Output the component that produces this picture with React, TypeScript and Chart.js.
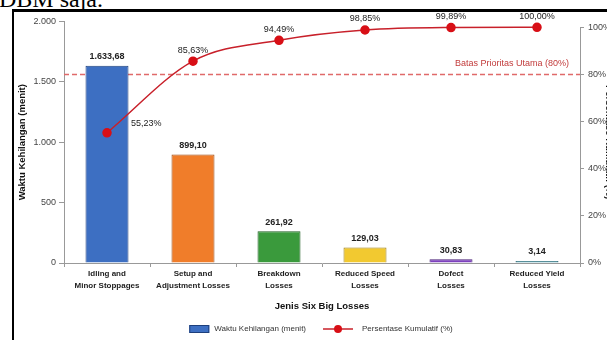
import React, { useEffect, useRef } from "react";
import { Chart, registerables } from "chart.js";

Chart.register(...registerables);

// Six Big Losses: lost minutes per category plus the cumulative share
const categories: string[][] = [
  ["Idling and", "Minor Stoppages"],
  ["Setup and", "Adjustment Losses"],
  ["Breakdown", "Losses"],
  ["Reduced Speed", "Losses"],
  ["Dofect", "Losses"],
  ["Reduced Yield", "Losses"],
];
const lossMinutes = [1633.68, 899.1, 261.92, 129.03, 30.83, 3.14];
const cumulativePercent = [55.23, 85.63, 94.49, 98.85, 99.89, 100.0];
const minuteTicks = [0, 500, 1000, 1500, 2000];
const percentTicks = [0, 20, 40, 60, 80, 100];
const priorityLimit = 80;
const priorityText = "Batas Prioritas Utama (80%)";

const barFill = ["#3d6fc2", "#f07d2a", "#3a9a3c", "#f2c930", "#7d40bd", "#4aa0b0"];
const barEdge = ["#1d3f7c", "#9a4a12", "#1f5e22", "#9c7c10", "#4a2178", "#2a6470"];
const lineRed = "#c8202a";
const dotRed = "#d80f16";

const FONT = '"Liberation Sans", Arial, Helvetica, sans-serif';

// Indonesian number style: "." for thousands, "," for decimals
function formatId(v: number, decimals: number): string {
  const [whole, frac] = v.toFixed(decimals).split(".");
  const grouped = whole.replace(/\B(?=(\d{3})+(?!\d))/g, ".");
  return frac ? grouped + "," + frac : grouped;
}

const priorityLinePlugin = {
  id: "priorityLine",
  beforeDatasetsDraw(chart: any) {
    const { ctx, chartArea, scales } = chart;
    const y = scales.yPct.getPixelForValue(priorityLimit);
    ctx.save();
    ctx.strokeStyle = "#e06a6a";
    ctx.lineWidth = 1.5;
    ctx.setLineDash([5, 3]);
    ctx.beginPath();
    ctx.moveTo(chartArea.left, y);
    ctx.lineTo(chartArea.right, y);
    ctx.stroke();
    ctx.setLineDash([]);
    ctx.fillStyle = "#c23b3b";
    ctx.font = `9px ${FONT}`;
    ctx.textAlign = "right";
    ctx.textBaseline = "middle";
    ctx.fillText(priorityText, chartArea.right - 11, y - 11);
    ctx.restore();
  },
};

const valueLabelPlugin = {
  id: "valueLabels",
  afterDatasetsDraw(chart: any) {
    const { ctx } = chart;
    ctx.save();
    const bars = chart.getDatasetMeta(0).data;
    ctx.fillStyle = "#222";
    ctx.font = `bold 9px ${FONT}`;
    ctx.textAlign = "center";
    ctx.textBaseline = "middle";
    bars.forEach((bar: any, i: number) => {
      ctx.fillText(formatId(lossMinutes[i], 2), bar.x, bar.y - 9);
    });
    const points = chart.getDatasetMeta(1).data;
    ctx.font = `9px ${FONT}`;
    points.forEach((pt: any, i: number) => {
      const text = formatId(cumulativePercent[i], 2) + "%";
      if (i === 0) {
        ctx.textAlign = "left";
        ctx.fillText(text, pt.x + 24, pt.y - 9);
      } else {
        ctx.textAlign = "center";
        ctx.fillText(text, pt.x, pt.y - 11);
      }
    });
    ctx.restore();
  },
};

const rightAxisLinePlugin = {
  id: "rightAxisLine",
  afterDraw(chart: any) {
    const { ctx, chartArea, scales } = chart;
    const s = scales.yPct;
    ctx.save();
    ctx.strokeStyle = "#999";
    ctx.lineWidth = 1;
    ctx.beginPath();
    ctx.moveTo(chartArea.right + 0.5, s.getPixelForValue(0));
    ctx.lineTo(chartArea.right + 0.5, s.getPixelForValue(100));
    ctx.stroke();
    ctx.restore();
  },
};

const bottomLegendPlugin = {
  id: "bottomLegend",
  afterDraw(chart: any) {
    const { ctx, chartArea } = chart;
    const [barSet, lineSet] = chart.data.datasets;
    const y = chartArea.bottom + 66;
    ctx.save();
    ctx.font = `8px ${FONT}`;
    const w1 = ctx.measureText(barSet.label).width;
    const w2 = ctx.measureText(lineSet.label).width;
    const total = 20 + 5 + w1 + 17 + 30 + 9 + w2;
    let x = (chartArea.left + chartArea.right) / 2 - 1 - total / 2;
    ctx.fillStyle = barFill[0];
    ctx.fillRect(x, y - 4, 20, 8);
    ctx.strokeStyle = barEdge[0];
    ctx.lineWidth = 1;
    ctx.strokeRect(x + 0.5, y - 3.5, 19, 7);
    x += 25;
    ctx.fillStyle = "#333";
    ctx.textAlign = "left";
    ctx.textBaseline = "middle";
    ctx.fillText(barSet.label, x, y);
    x += w1 + 17;
    ctx.strokeStyle = lineRed;
    ctx.lineWidth = 1.5;
    ctx.beginPath();
    ctx.moveTo(x, y);
    ctx.lineTo(x + 30, y);
    ctx.stroke();
    ctx.fillStyle = dotRed;
    ctx.beginPath();
    ctx.arc(x + 15, y, 4, 0, Math.PI * 2);
    ctx.fill();
    x += 39;
    ctx.fillStyle = "#333";
    ctx.fillText(lineSet.label, x, y);
    ctx.restore();
  },
};

export default function App() {
  const canvasRef = useRef<HTMLCanvasElement | null>(null);

  useEffect(() => {
    const canvas = canvasRef.current;
    if (!canvas) return;
    Chart.defaults.font.family = FONT;
    const chart = new Chart(canvas, {
      type: "bar",
      data: {
        labels: categories,
        datasets: [
          {
            type: "bar",
            label: "Waktu Kehilangan (menit)",
            data: lossMinutes,
            backgroundColor: barFill,
            borderColor: barEdge,
            borderWidth: 1,
            minBarLength: 2,
            categoryPercentage: 1,
            barPercentage: 0.5,
            yAxisID: "y",
            order: 1,
          },
          {
            type: "line",
            label: "Persentase Kumulatif (%)",
            data: cumulativePercent,
            borderColor: lineRed,
            borderWidth: 1.5,
            backgroundColor: dotRed,
            pointBackgroundColor: dotRed,
            pointBorderColor: dotRed,
            pointRadius: 4,
            cubicInterpolationMode: "monotone",
            yAxisID: "yPct",
            order: 0,
          },
        ],
      } as any,
      options: {
        responsive: false,
        animation: false,
        layout: { padding: { left: 0, right: 0, top: 5, bottom: 37 } },
        plugins: {
          legend: { display: false },
          tooltip: { enabled: false },
        },
        scales: {
          x: {
            type: "category",
            offset: true,
            grid: {
              display: true,
              offset: true,
              drawOnChartArea: false,
              drawTicks: true,
              tickLength: 4,
              color: "#999",
            },
            border: { color: "#999" },
            ticks: {
              color: "#222",
              padding: 0,
              maxRotation: 0,
              autoSkip: false,
              font: { size: 8, weight: "bold", lineHeight: 1.6 },
            },
            title: {
              display: true,
              text: "Jenis Six Big Losses",
              color: "#111",
              font: { size: 9.5, weight: "bold" },
              padding: { top: 0, bottom: 3 },
            },
            afterFit: (s: any) => {
              s.height = 52;
            },
          },
          y: {
            position: "left",
            min: 0,
            max: 2000,
            afterBuildTicks: (s: any) => {
              s.ticks = minuteTicks.map((v) => ({ value: v }));
            },
            grid: {
              drawOnChartArea: false,
              drawTicks: true,
              tickLength: 5,
              color: "#999",
            },
            border: { color: "#999" },
            ticks: {
              color: "#444",
              padding: 3,
              font: { size: 9 },
              callback: (v: any) => formatId(Number(v), 0),
            },
            title: {
              display: true,
              text: "Waktu Kehilangan (menit)",
              color: "#111",
              font: { size: 9.5, weight: "bold" },
              padding: { top: 3, bottom: 0 },
            },
            afterFit: (s: any) => {
              s.width = 50;
            },
          },
          yPct: {
            position: "right",
            min: 0,
            max: 102.5,
            afterBuildTicks: (s: any) => {
              s.ticks = percentTicks.map((v) => ({ value: v }));
            },
            grid: {
              drawOnChartArea: false,
              drawTicks: true,
              tickLength: 4,
              color: "#999",
            },
            border: { display: false },
            ticks: {
              color: "#444",
              padding: 4,
              font: { size: 9 },
              callback: (v: any) => `${v}%`,
            },
            title: {
              display: true,
              text: "Persentase Kumulatif (%)",
              color: "#111",
              font: { size: 9.5, weight: "bold" },
              padding: { top: 11, bottom: 0 },
            },
            afterFit: (s: any) => {
              s.width = 45;
            },
          },
        },
      } as any,
      plugins: [priorityLinePlugin, valueLabelPlugin, rightAxisLinePlugin, bottomLegendPlugin],
    });
    return () => chart.destroy();
  }, []);

  return (
    <div
      style={{
        position: "fixed",
        left: 0,
        top: 0,
        width: 607,
        height: 340,
        overflow: "hidden",
        background: "#fff",
      }}
    >
      <div
        style={{
          position: "absolute",
          left: -1,
          top: -13,
          font: '24px "Liberation Serif", "Times New Roman", serif',
          lineHeight: "24px",
          color: "#000",
          whiteSpace: "nowrap",
        }}
      >
        DBM saja.
      </div>
      <canvas
        ref={canvasRef}
        width={611}
        height={340}
        style={{ position: "absolute", left: 14, top: 12, width: 611, height: 340 }}
      />
      <div
        style={{
          position: "absolute",
          left: 12,
          top: 9,
          width: 700,
          height: 400,
          borderLeft: "2px solid #000",
          borderTop: "3px solid #000",
          pointerEvents: "none",
        }}
      />
    </div>
  );
}
